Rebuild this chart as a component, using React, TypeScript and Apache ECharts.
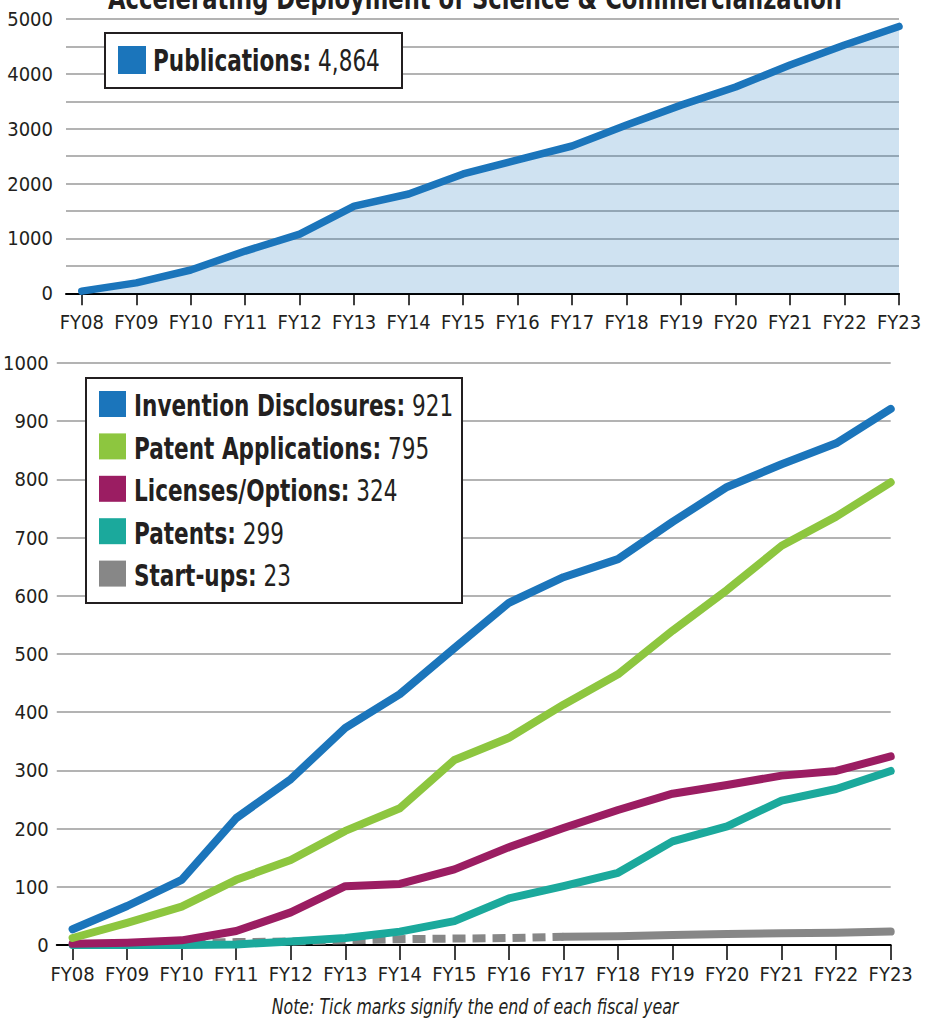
import React, { useEffect, useRef } from "react";
import * as echarts from "echarts";

const fiscalYears = ["FY08", "FY09", "FY10", "FY11", "FY12", "FY13", "FY14", "FY15", "FY16", "FY17", "FY18", "FY19", "FY20", "FY21", "FY22", "FY23"];
const publications = [40, 190, 425, 770, 1080, 1590, 1810, 2175, 2430, 2685, 3070, 3430, 3760, 4160, 4525, 4864];
const inventionDisclosures = [27, 67, 112, 218, 285, 373, 431, 510, 588, 632, 663, 727, 787, 826, 862, 921];
const patentApplications = [12, 38, 66, 112, 146, 196, 235, 318, 356, 413, 465, 540, 610, 686, 736, 795];
const licensesOptions = [2, 4, 8, 24, 56, 101, 105, 130, 168, 201, 232, 260, 275, 291, 299, 324];
const patents = [0, 0, 0, 1, 6, 12, 23, 41, 80, 101, 124, 178, 204, 248, 268, 299];
const startups = [0, 1, 3, 5, 6, 8, 10, 11, 12, 14, 15, 17, 19, 20, 21, 23];
const startupsDashedUntil = "FY17";

const titleText = "Accelerating Deployment of Science & Commercialization";
const noteText = "Note: Tick marks signify the end of each fiscal year";

const bottomSeries = [
  { name: "Invention Disclosures", data: inventionDisclosures, color: "#1b75bb" },
  { name: "Patent Applications", data: patentApplications, color: "#8dc63f" },
  { name: "Licenses/Options", data: licensesOptions, color: "#9b1d62" },
  { name: "Patents", data: patents, color: "#1ba99c" },
  { name: "Start-ups", data: startups, color: "#878787" },
];

const FONT = "'Liberation Sans Narrow', 'DejaVu Sans Condensed', 'Arial Narrow', sans-serif";
const TEXT = "#231f20";
const SQUEEZE = 0.8;

const pts = (arr: number[]) => arr.map((v, i) => [i, v]);
const fmt = (v: number) => v.toLocaleString("en-US");

export default function App() {
  const ref = useRef<HTMLDivElement>(null);
  useEffect(() => {
    if (!ref.current) return;
    const chart = echarts.init(ref.current, null, { renderer: "svg" });
    const idx = fiscalYears.map((_, i) => i);
    const dashEnd = fiscalYears.indexOf(startupsDashedUntil);

    const xAxisBase = (gridIndex: number, tickLen: number) => ({
      type: "value" as const,
      gridIndex,
      min: -0.29,
      max: fiscalYears.length - 1,
      splitLine: { show: false },
      axisLine: { show: true, onZero: false, lineStyle: { color: "#000", width: 2 } },
      axisTick: { show: true, customValues: idx, length: tickLen, lineStyle: { color: "#000", width: 1.5 } },
      axisLabel: {
        customValues: idx,
        formatter: (v: number) => fiscalYears[Math.round(v)] ?? "",
        fontFamily: FONT,
        fontSize: 20,
        color: TEXT,
        margin: 19,
      },
    });

    const richStyles = {
      b: { fontFamily: FONT, fontSize: 30, fontWeight: "bold", fill: TEXT },
      n: { fontFamily: FONT, fontSize: 30, fill: TEXT },
    };

    const legendGraphics: any[] = [];
    // top legend
    legendGraphics.push({
      type: "rect",
      z: 100,
      shape: { x: 105, y: 33, width: 297, height: 55 },
      style: { fill: "#fff", stroke: "#231f20", lineWidth: 2 },
    });
    legendGraphics.push({
      type: "rect",
      z: 101,
      shape: { x: 118, y: 46, width: 28, height: 28 },
      style: { fill: "#1b75bb" },
    });
    legendGraphics.push({
      type: "text",
      z: 101,
      x: 153,
      y: 61,
      scaleX: SQUEEZE,
      style: {
        text: `{b|Publications:}{n| ${fmt(publications[publications.length - 1])}}`,
        verticalAlign: "middle",
        rich: richStyles,
      },
    });
    // bottom legend
    legendGraphics.push({
      type: "rect",
      z: 100,
      shape: { x: 86, y: 378, width: 376, height: 225 },
      style: { fill: "#fff", stroke: "#231f20", lineWidth: 2 },
    });
    bottomSeries.forEach((s, k) => {
      const top = 391 + k * 42.4;
      legendGraphics.push({
        type: "rect",
        z: 101,
        shape: { x: 99, y: top, width: 27, height: 26 },
        style: { fill: s.color },
      });
      legendGraphics.push({
        type: "text",
        z: 101,
        x: 134,
        y: top + 15,
        scaleX: SQUEEZE,
        style: {
          text: `{b|${s.name}:}{n| ${fmt(s.data[s.data.length - 1])}}`,
          verticalAlign: "middle",
          rich: richStyles,
        },
      });
    });

    const lineSeries = (name: string, data: any[], color: string, extra: any = {}) => ({
      type: "line",
      name,
      xAxisIndex: 1,
      yAxisIndex: 1,
      data,
      showSymbol: false,
      symbol: "none",
      lineStyle: { color, width: 8, cap: "round", join: "round" },
      ...extra,
    });

    const startupsDashed = startups.map((v, i) => (i <= dashEnd ? [i, v] : null)).filter(Boolean);
    const startupsSolid = startups.map((v, i) => (i >= dashEnd ? [i, v] : null)).filter(Boolean);

    chart.setOption({
      animation: false,
      backgroundColor: "#fff",
      grid: [
        { left: 66, right: 35, top: 19, bottom: 727.7, containLabel: false },
        { left: 56, right: 43.3, top: 363, bottom: 76, containLabel: false },
      ],
      xAxis: [xAxisBase(0, 12), xAxisBase(1, 15)],
      yAxis: [
        {
          type: "value",
          gridIndex: 0,
          min: 0,
          max: 5000,
          interval: 500,
          axisLine: { show: false },
          axisTick: { show: false },
          splitLine: { show: true, lineStyle: { color: "#9a9a9a", width: 1.5 } },
          axisLabel: {
            formatter: (v: number) => (v % 1000 === 0 ? String(v) : ""),
            fontFamily: FONT,
            fontSize: 20,
            color: TEXT,
            margin: 13,
          },
        },
        {
          type: "value",
          gridIndex: 1,
          min: 0,
          max: 1000,
          interval: 100,
          axisLine: { show: false },
          axisTick: { show: false },
          splitLine: { show: true, lineStyle: { color: "#9a9a9a", width: 1.5 } },
          axisLabel: { formatter: (v: number) => String(v), fontFamily: FONT, fontSize: 20, color: TEXT, margin: 8 },
        },
      ],
      series: [
        {
          type: "line",
          name: "Publications",
          xAxisIndex: 0,
          yAxisIndex: 0,
          data: pts(publications),
          showSymbol: false,
          symbol: "none",
          lineStyle: { color: "#1b75bb", width: 7.5, cap: "round", join: "round" },
          areaStyle: { color: "rgba(27,117,187,0.3)", origin: "start" },
        },
        lineSeries("Start-ups dashed", startupsDashed, "#878787", {
          lineStyle: { color: "#878787", width: 8, type: [13, 7], cap: "butt", join: "miter" },
        }),
        lineSeries("Start-ups", startupsSolid, "#878787"),
        lineSeries("Patents", pts(patents), "#1ba99c"),
        lineSeries("Licenses/Options", pts(licensesOptions), "#9b1d62"),
        lineSeries("Patent Applications", pts(patentApplications), "#8dc63f"),
        lineSeries("Invention Disclosures", pts(inventionDisclosures), "#1b75bb"),
      ],
      graphic: [
        {
          type: "text",
          z: 100,
          x: 475,
          y: -1.5,
          scaleX: 0.84,
          style: {
            text: titleText,
            fontFamily: FONT,
            fontSize: 30,
            fontWeight: "bold",
            fill: TEXT,
            align: "center",
            verticalAlign: "middle",
          },
        },
        {
          type: "text",
          z: 100,
          x: 475,
          y: 1007,
          scaleX: SQUEEZE,
          style: {
            text: noteText,
            fontFamily: FONT,
            fontSize: 22,
            fontStyle: "italic",
            fill: TEXT,
            align: "center",
            verticalAlign: "middle",
          },
        },
        ...legendGraphics,
      ],
    });
    return () => chart.dispose();
  }, []);
  return (
    <div
      ref={ref}
      style={{ position: "absolute", left: 0, top: 0, width: 934, height: 1021, background: "#fff" }}
    />
  );
}
